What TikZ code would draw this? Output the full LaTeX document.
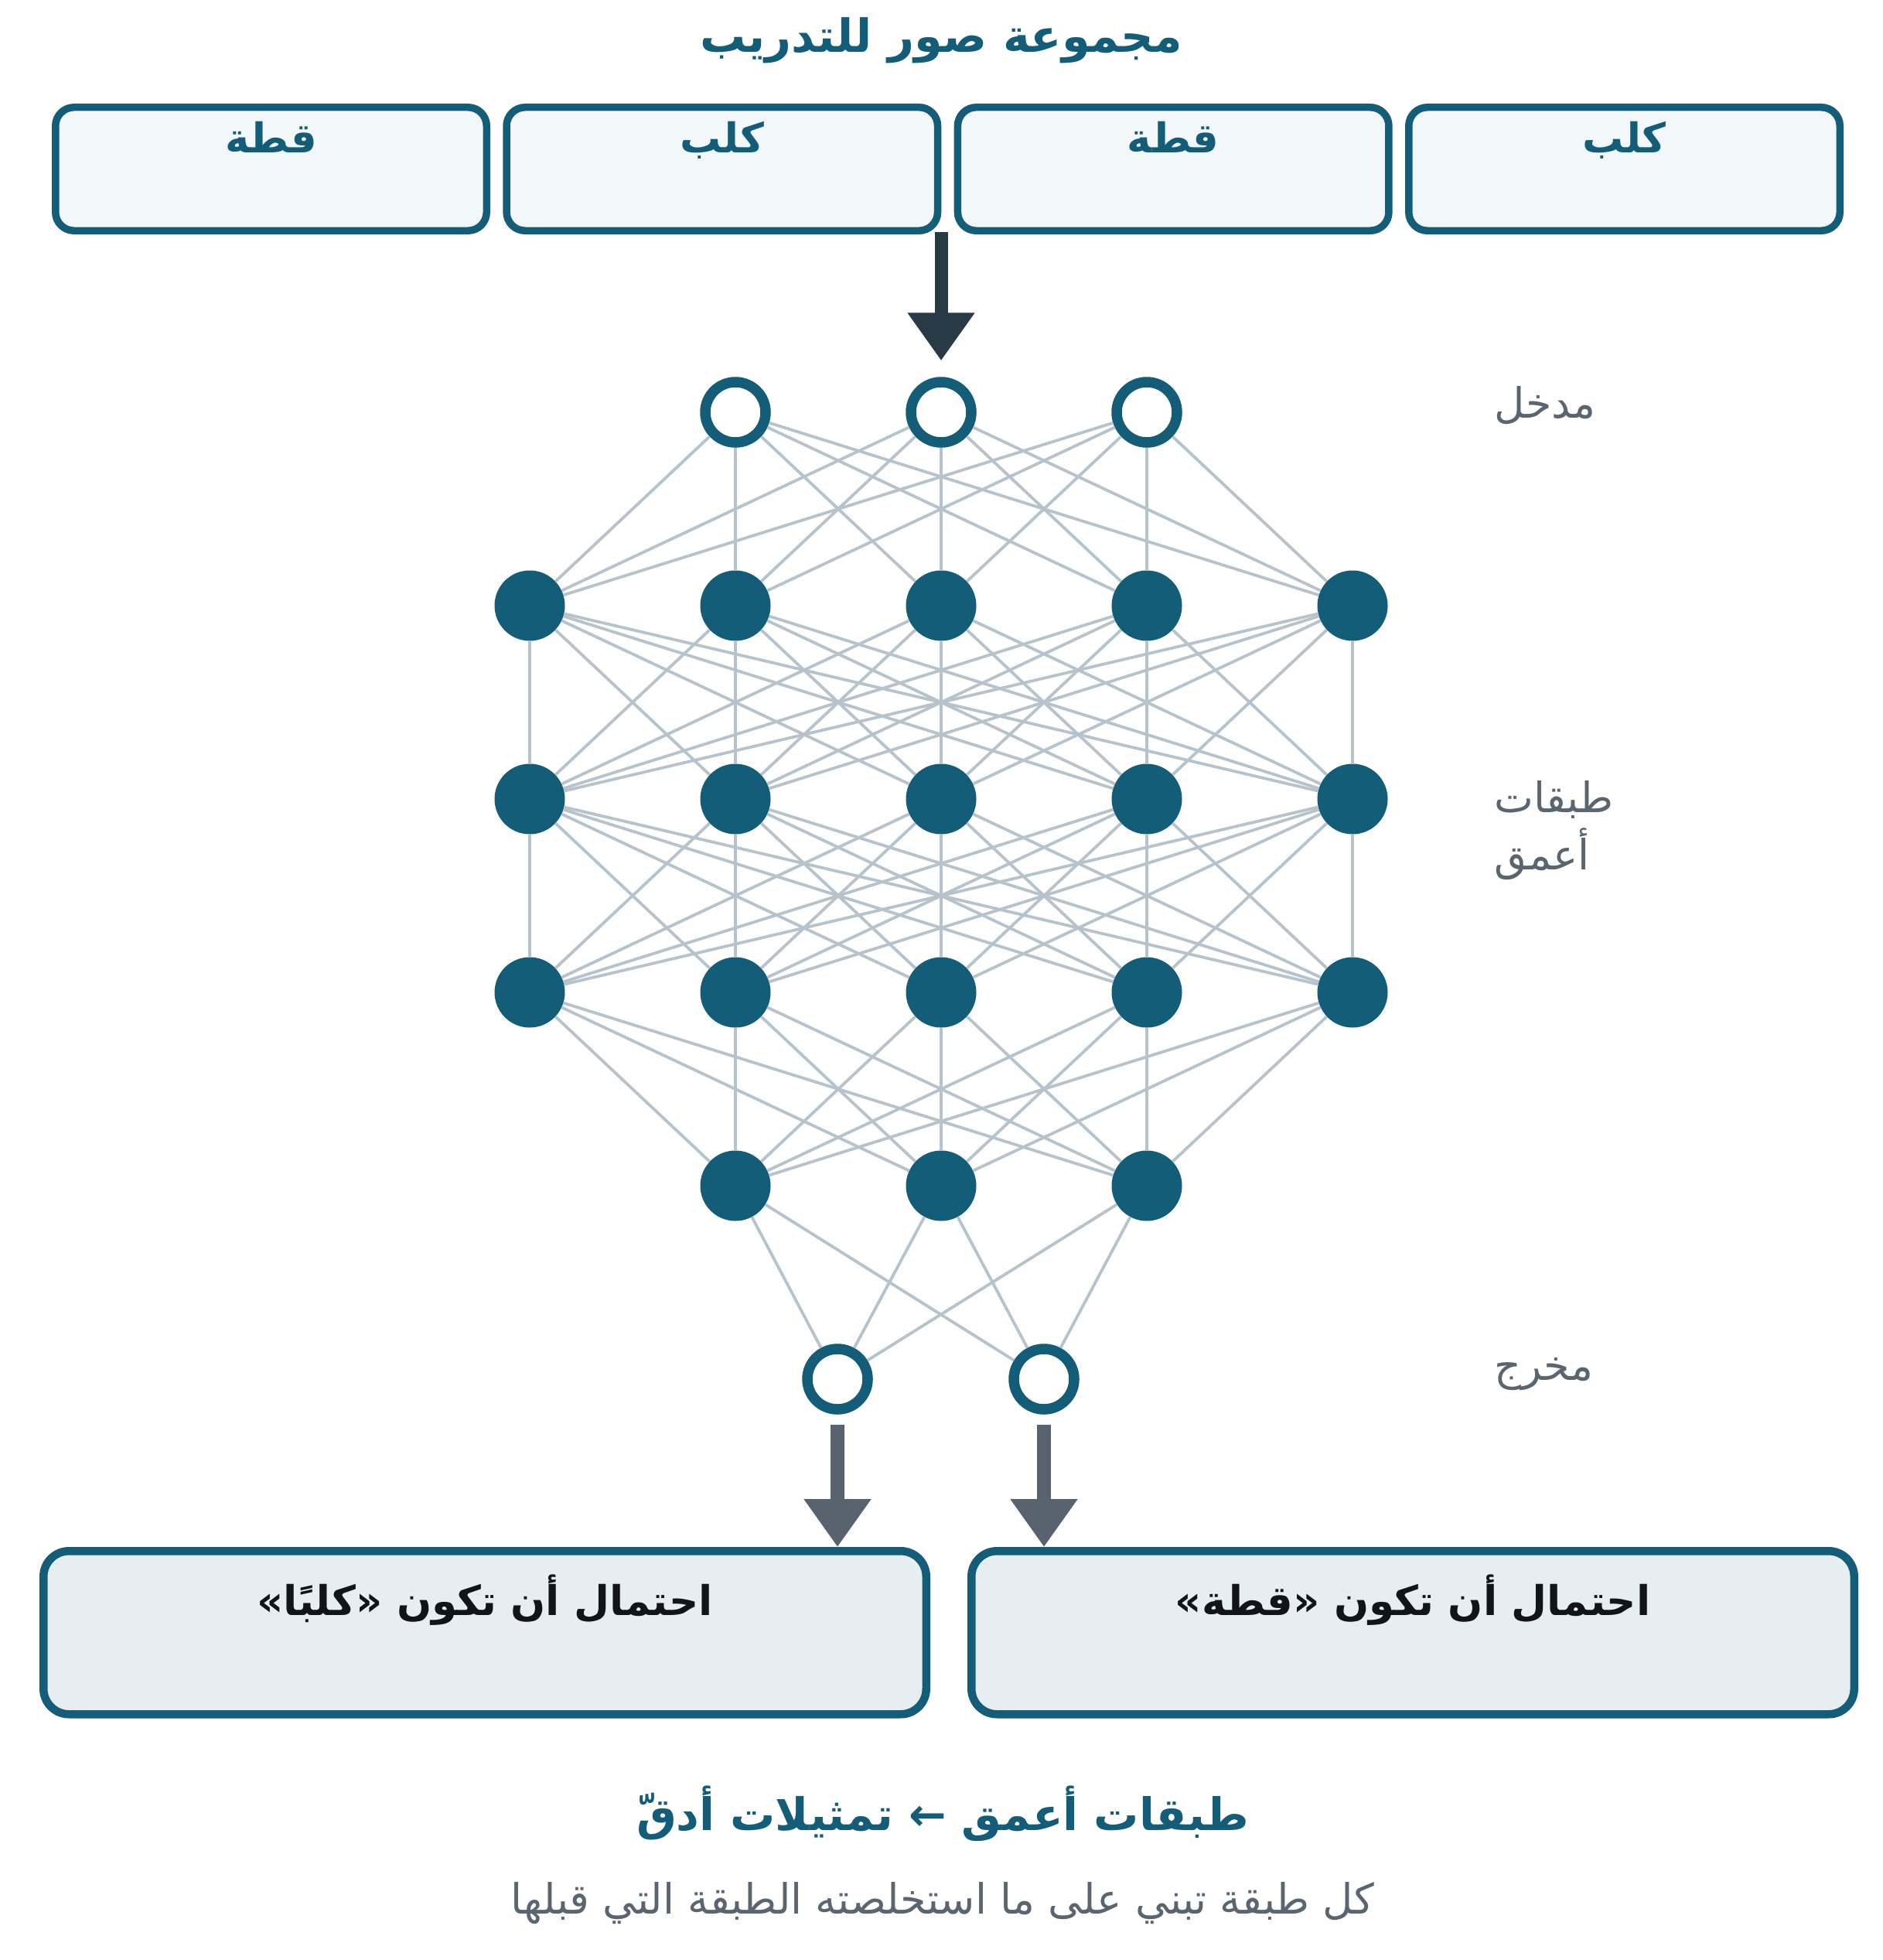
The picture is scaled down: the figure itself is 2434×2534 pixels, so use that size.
\documentclass[tikz,border=0pt]{standalone}
\usepackage{fontspec}
\TeXXeTstate=1
\newfontfamily\arabicfont[Script=Arabic]{DejaVu Sans}
\usetikzlibrary{arrows.meta,calc}
\definecolor{nnteal}{HTML}{135D78}
\definecolor{topfill}{HTML}{F2F7FA}
\definecolor{botfill}{HTML}{E6EEF2}
\definecolor{edgegray}{HTML}{B7C3CC}
\definecolor{arrowdark}{HTML}{283A46}
\definecolor{arrowgray}{HTML}{58636F}
\definecolor{labelgray}{HTML}{5B6570}
\definecolor{textblack}{HTML}{111418}
\tikzset{
  topbox/.style={draw=nnteal, line width=9.5pt, fill=topfill, rounded corners=24pt,
    minimum width=557.5pt, minimum height=159.5pt, inner sep=0pt},
  botbox/.style={draw=nnteal, line width=10.5pt, fill=botfill, rounded corners=33pt,
    minimum width=1141.5pt, minimum height=211pt, inner sep=0pt},
  ringnode/.style={circle, draw=nnteal, line width=13.5pt, fill=white, minimum size=78pt, inner sep=0pt},
  fullnode/.style={circle, fill=nnteal, minimum size=91pt, inner sep=0pt},
  edge/.style={draw=edgegray, line width=3.8pt},
  inarrow/.style={draw=arrowdark, line width=17pt, -{Triangle[width=83pt,length=62pt]}},
  outarrow/.style={draw=arrowgray, line width=17.5pt, -{Triangle[width=83pt,length=62pt]}},
  titletext/.style={anchor=base, inner sep=0pt, text=nnteal, font=\arabicfont\bfseries\fontsize{59}{65}\selectfont},
  sumtext/.style={anchor=base, inner sep=0pt, text=nnteal, font=\arabicfont\bfseries\fontsize{58}{64}\selectfont},
  boxlabel/.style={anchor=base, inner sep=0pt, text=nnteal, font=\arabicfont\bfseries\fontsize{53}{60}\selectfont},
  sidelabel/.style={anchor=base west, inner sep=0pt, text=labelgray, font=\arabicfont\fontsize{54}{60}\selectfont},
  bottext/.style={anchor=base, inner sep=0pt, text=textblack, font=\arabicfont\bfseries\fontsize{53}{60}\selectfont},
  subtext/.style={anchor=base, inner sep=0pt, text=labelgray, font=\arabicfont\fontsize{54}{60}\selectfont},
}
\begin{document}
\begin{tikzpicture}[x=1pt,y=-1pt]
\useasboundingbox (0,0) rectangle (2434,2534);
% title
\node[titletext] (title) at (1217,68) {\beginR مجموعة صور للتدريب\endR};
% top boxes
\node[topbox] (b1) at (350.5,218.5) {};
\node[topbox] (b2) at (933.8,218.5) {};
\node[topbox] (b3) at (1517.2,218.5) {};
\node[topbox] (b4) at (2100.5,218.5) {};
\node[boxlabel] (t1) at (350.5,198) {\beginR قطة\endR};
\node[boxlabel] (t2) at (933.8,198) {\beginR كلب\endR};
\node[boxlabel] (t3) at (1517.2,198) {\beginR قطة\endR};
\node[boxlabel] (t4) at (2100.5,198) {\beginR كلب\endR};
% network nodes
\foreach \x [count=\i] in {951,1217,1483} \node[ringnode] (in\i) at (\x,533) {};
\foreach \x [count=\i] in {685,951,1217,1483,1749} {
  \node[fullnode] (ha\i) at (\x,783) {};
  \node[fullnode] (hb\i) at (\x,1033) {};
  \node[fullnode] (hc\i) at (\x,1283) {};
}
\foreach \x [count=\i] in {951,1217,1483} \node[fullnode] (hd\i) at (\x,1533) {};
\foreach \x [count=\i] in {1083,1350} \node[ringnode] (out\i) at (\x,1783) {};
% connections
\foreach \i in {1,2,3} \foreach \j in {1,...,5} \draw[edge] (in\i) -- (ha\j);
\foreach \i in {1,...,5} \foreach \j in {1,...,5} {
  \draw[edge] (ha\i) -- (hb\j);
  \draw[edge] (hb\i) -- (hc\j);
}
\foreach \i in {1,...,5} \foreach \j in {1,2,3} \draw[edge] (hc\i) -- (hd\j);
\foreach \i in {1,2,3} \foreach \j in {1,2} \draw[edge] (hd\i) -- (out\j);
% side labels
\node[sidelabel] (lin) at (1932,540) {\beginR مدخل\endR};
\node[sidelabel] (ldeep1) at (1932,1050) {\beginR طبقات\endR};
\node[sidelabel] (ldeep2) at (1932,1124) {\beginR أعمق\endR};
\node[sidelabel] (lout) at (1932,1784) {\beginR مخرج\endR};
% bottom boxes
\node[botbox] (pdog) at (627,2110.75) {};
\node[botbox] (pcat) at (1827,2110.75) {};
\node[bottext] (tdog) at (627,2088) {\beginR احتمال أن تكون «كلبًا»\endR};
\node[bottext] (tcat) at (1827,2088) {\beginR احتمال أن تكون «قطة»\endR};
% arrows
\coordinate (inarr) at (1217,300);
\draw[inarrow, shorten >=21pt] (inarr) -- (in2.north);
\draw[outarrow, shorten <=13pt] (out1.south) -- (out1.south |- pdog.north);
\draw[outarrow, shorten <=13pt] (out2.south) -- (out2.south |- pcat.north);
% bottom texts
\node[sumtext] (sum) at (1219,2366) {\beginR طبقات أعمق ← تمثيلات أدقّ\endR};
\node[subtext] (sub) at (1219,2474) {\beginR كل طبقة تبني على ما استخلصته الطبقة التي قبلها\endR};
\end{tikzpicture}
\end{document}
